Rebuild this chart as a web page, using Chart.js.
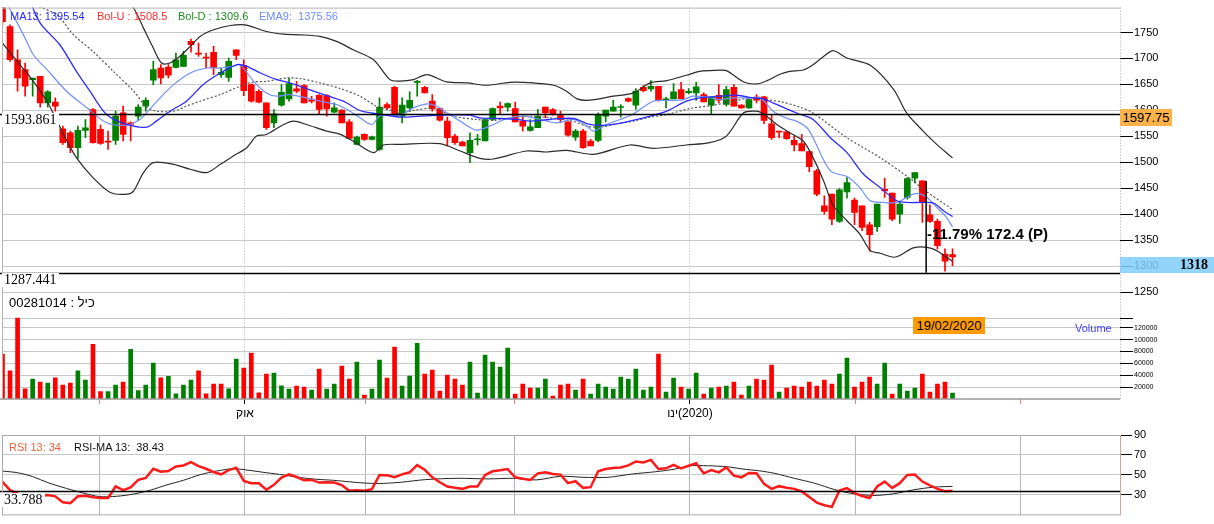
<!DOCTYPE html>
<html lang="he">
<head>
<meta charset="utf-8">
<title>כיל</title>
<script src="https://cdn.jsdelivr.net/npm/chart.js@4.4.1/dist/chart.umd.min.js"></script>
<style>
  html, body { margin: 0; padding: 0; background: #fff; }
  body { position: relative; width: 1214px; height: 524px; overflow: hidden; font-family: 'Liberation Sans', Arial, sans-serif; }
  canvas { position: absolute; left: 0; }
  #priceChart { top: 0; }
  #rsiChart { top: 425px; }
  .t { position: absolute; white-space: pre; line-height: 1; }
  .num { position: absolute; white-space: pre; font-family: 'Liberation Serif', serif; font-size: 14px; line-height: 14px; background: #fff; padding: 0 2px; color: #000; }
  .badge { position: absolute; white-space: pre; color: #000; text-align: center; }
</style>
</head>
<body>
<canvas id="priceChart" width="1214" height="420"></canvas>
<canvas id="rsiChart" width="1214" height="99"></canvas>

<div class="t" style="left:10px;top:11px;font-size:11px;color:#2a2aff">MA13: 1395.54</div>
<div class="t" style="left:97px;top:11px;font-size:11px;color:#ff2a2a">Bol-U : 1508.5</div>
<div class="t" style="left:178px;top:11px;font-size:11px;color:#1e8a1e">Bol-D : 1309.6</div>
<div class="t" style="left:259px;top:11px;font-size:11px;color:#6b8cff">EMA9:  1375.56</div>

<div class="num" style="left:2px;top:113px">1593.861</div>
<div class="num" style="left:2px;top:273px">1287.441</div>
<div class="t" dir="ltr" style="left:9px;top:296px;font-size:13px;color:#000">00281014 : כיל</div>

<div class="t" style="left:927px;top:226px;font-size:15px;font-weight:bold;color:#000">-11.79% 172.4 (P)</div>
<div class="badge" style="left:913px;top:317px;width:72px;height:17px;line-height:17px;font-size:13px;background:#ff9b00">19/02/2020</div>
<div class="t" style="left:1075px;top:323px;font-size:11px;color:#3c3cff">Volume</div>

<div class="badge" style="left:1120px;top:109px;width:52px;height:17px;line-height:17px;font-size:13px;background:#ffb24a">1597.75</div>
<div class="badge" style="left:1120px;top:257px;width:94px;height:16px;line-height:16px;font-size:14px;font-weight:bold;font-family:'Liberation Serif',serif;text-align:right;background:rgba(128,205,250,0.85)"><span style="padding-right:6px">1318</span></div>

<div class="t" style="left:9px;top:442px;font-size:11px;color:#f0603c">RSI 13: 34</div>
<div class="t" style="left:74px;top:442px;font-size:11px;color:#111">RSI-MA 13:  38.43</div>
<div class="num" style="left:2px;top:493px">33.788</div>

<script>
// daily candles, oldest first
const opens = [1810,1761.5,1697.6,1678.4,1659.3,1665.6,1614.5,1615.8,1564.6,1557,
  1528.2,1561.4,1601.7,1563.3,1541,1542.2,1595.3,1576.1,1588.9,1608.1,
  1658,1681.6,1683.5,1682.9,1684.8,1732.8,1710.4,1702.1,1711.7,1668.8,
  1663.7,1716.8,1686.7,1649.6,1636.9,1614.5,1576.1,1610,1622.2,1641.3,
  1647.7,1620.2,1629.2,1628.5,1596.6,1600.4,1578,1534.6,1553.7,1544.2,
  1525,1611.3,1644.5,1588.9,1604.9,1654.1,1644.5,1617.7,1603.6,1579.3,
  1550.5,1539,1518.6,1543.5,1541,1582.5,1608.1,1606.2,1603.6,1579.3,
  1561.4,1566.5,1606.2,1601.7,1590.2,1578,1548.6,1560.1,1541,1542.2,
  1588.9,1598.5,1605.5,1622.8,1610,1644.5,1641.3,1646.5,1619,1622.2,
  1640,1634.3,1633.7,1630.5,1610,1629.2,1611.3,1644.5,1610,1604.9,
  1625.4,1626,1574.2,1560.1,1558.8,1542.2,1535.9,1520.5,1483.4,1416.3,
  1438.6,1386.2,1443.1,1427.1,1416.3,1379.8,1376,1448.2,1440.6,1400.3,
  1432.3,1469.3,1464.2,1399,1386.2,1323.5,1322.3];
const highs = [1815,1764.7,1716.8,1691.2,1662.4,1665.6,1638.1,1624.1,1569.7,1560.1,
  1569.7,1582.5,1603.6,1571.6,1560.1,1598.5,1608.1,1578,1611.3,1624.1,
  1694.4,1688,1688,1710.4,1713.6,1737.2,1729.6,1710.4,1723.2,1681.6,
  1700.8,1716.8,1697.6,1651,1640,1614.5,1601.7,1649.6,1662.4,1656,
  1649.6,1627.3,1630.5,1630.5,1614.5,1601.7,1582.5,1550.5,1555,1550.5,
  1624.1,1614.5,1646.5,1624.1,1635.6,1658,1646.5,1630.5,1604.9,1587,
  1553.7,1541,1557,1553.7,1582.5,1604.9,1615.8,1614.5,1615.8,1588.9,
  1582.5,1601.7,1606.2,1603.6,1598.5,1578,1563.3,1563.3,1544.2,1595.3,
  1600.4,1619.6,1611.3,1624.1,1641.9,1647.7,1657.3,1646.5,1625.4,1651.6,
  1654.1,1642,1654.1,1633.7,1625.4,1649.6,1646.5,1649.6,1611.3,1622.2,
  1630.5,1627.3,1592.1,1560.1,1560.1,1550.5,1553.7,1521.8,1486.6,1435.4,
  1438.6,1449.5,1470.6,1431,1416.3,1384.3,1419.5,1469.3,1440.6,1424.6,
  1470.6,1480.2,1464.2,1418.2,1390.7,1333.2,1333.2];
const lows = [1765,1694.4,1636.9,1627.3,1627.3,1606.2,1606.2,1598.5,1534.6,1518.6,
  1507.7,1547.3,1537,1534.6,1525,1534.6,1541,1541,1580.6,1598.5,
  1649.6,1650.9,1662.4,1681.6,1684.8,1712.3,1704,1681.6,1668.8,1663.7,
  1656,1697.6,1628.5,1616,1614.5,1563.3,1566.5,1608.1,1617.7,1633.7,
  1614.5,1614.5,1592.1,1589,1595.3,1576.1,1546.1,1533.3,1542.2,1542.9,
  1523,1601.7,1592.1,1576.1,1598.5,1627.3,1633.7,1598.5,1579.3,1531.4,
  1534.6,1531.4,1499.4,1533.3,1541,1580.6,1592.1,1598.5,1578,1560.1,
  1560.1,1566.5,1585.7,1590.8,1576.1,1550.5,1542.2,1526.9,1531.4,1539.7,
  1578,1598.5,1587,1616.4,1601.7,1635.6,1636.9,1617.7,1604.9,1622.2,
  1622.8,1631.7,1619,1616.4,1592.1,1614.5,1608.1,1608.1,1603.6,1603.6,
  1614.5,1574.2,1544.2,1547.3,1544.2,1521.8,1521.8,1482.1,1435.4,1400.3,
  1379.8,1384.3,1431,1379.8,1368.3,1328.7,1367,1432.3,1387.5,1382.4,
  1429.1,1460.4,1384.3,1384.3,1333.2,1290.3,1301];
const closes = [1771,1697.6,1662.4,1646.5,1662.4,1614.5,1635.6,1608.1,1537.8,1528.2,
  1561.4,1566.5,1537.8,1536.5,1539,1588.9,1553.7,1572.9,1606.2,1619.6,
  1678.4,1662.4,1667.6,1697.6,1705.9,1726.4,1708.5,1700.8,1681.6,1673.3,
  1694.4,1705.9,1638.1,1617.7,1615.8,1566.5,1593.4,1635,1651.6,1636.9,
  1614.5,1617.7,1601.7,1603,1604.9,1576.1,1546.1,1548.6,1544.2,1549.3,
  1606.2,1604.9,1593.4,1610,1619.6,1655.9,1633.7,1603,1581.2,1547.3,
  1537.8,1531.4,1542.2,1545.4,1582.5,1603.6,1604.9,1613.2,1578,1569.5,
  1568.4,1588.9,1595.3,1592.1,1582.5,1552.4,1560.1,1528.2,1531.4,1590.8,
  1600.4,1606.2,1606.8,1617.7,1637,1638.1,1646.5,1619,1622.2,1635.6,
  1622.8,1636.9,1645.2,1616.4,1625.4,1619.6,1640,1608.1,1604.9,1620.9,
  1619.5,1580.6,1547.3,1558.2,1545.4,1533.3,1521.8,1491.7,1438.6,1405.4,
  1390.7,1447,1461,1403.5,1374.7,1360.6,1419.5,1445,1390.7,1419.5,
  1468.7,1480.2,1422.7,1386.2,1339.5,1309.5,1318];
const volumes = [75500,47500,136500,17300,33600,28500,26800,35800,23500,26800,
  47500,31900,92300,12300,12300,23500,28500,83900,14000,23500,
  60400,35800,38100,8900,23500,31900,47500,8900,25200,25200,
  17300,67100,52000,77200,10600,42000,43600,22000,16800,21800,
  20100,15100,50300,16800,25200,55400,33600,62100,6700,16800,
  65400,35200,87300,21800,38600,94000,42000,48700,13400,40300,
  33600,23500,62100,10100,73800,62100,53700,85600,8400,25200,
  18500,18500,33600,5000,23500,25200,15100,33600,8400,25200,
  20100,16800,36900,33600,50300,15100,20100,75500,11700,35200,
  20100,16800,43600,8400,18500,20100,21800,28500,6700,21800,
  33600,31900,57000,11700,18500,21800,20100,28500,21800,31900,
  25200,42000,68800,20100,28500,36900,25200,60400,8400,25200,
  13400,18500,42000,11700,25200,28500,10100];

// indicator lines: [candle index, value]
const ma13 = [[3.5,1815],[5,1767.9],[7.6,1726.4],[9.8,1675.2],[11.6,1636.9],[13.8,1592.1],[16.5,1572.9],
  [19.1,1567.8],[20.4,1579.3],[22.2,1598.5],[24.4,1617.7],[26.6,1649.6],[28.9,1672],[31.1,1688],
  [32.4,1684.8],[34.2,1672],[36.4,1659.2],[38.1,1652.9],[40.3,1642],[42.6,1630.5],[45.2,1617.7],
  [47.4,1599.8],[49.6,1593.4],[52.7,1587],[55.4,1588.9],[58,1590.8],[62,1590.8],[63.3,1585.7],
  [66,1584.4],[68.2,1582.5],[70,1579.3],[72.6,1582.5],[75.7,1584.4],[77.9,1572.9],[80.1,1571.6],
  [82.8,1578],[85.9,1588.9],[88.1,1598.5],[90.7,1617.7],[92.5,1624.1],[95.2,1627.3],[97.4,1629.2],
  [99.6,1624.1],[100.9,1622.2],[102.2,1614.5],[104,1603],[105.5,1594],[107.5,1582.5],[109.8,1547.3],
  [112,1518.6],[114.2,1477],[116.4,1451.4],[118.6,1425.9],[119.9,1422.7],[122.1,1422.7],[123.5,1421.4],
  [124.8,1406.7],[126,1395.5]];
const ema9 = [[0.8,1800],[1.9,1770],[3,1739.2],[4.1,1707.2],[5.9,1678.4],[8.5,1636.9],[11.2,1604.9],
  [13.8,1576.1],[16.5,1571.6],[18.2,1582.5],[19.3,1598.5],[20.9,1624.1],[22.7,1649.6],[24.9,1672],
  [27.1,1681.6],[28.9,1681.6],[30.6,1684.8],[31.5,1688],[33.3,1656],[35,1633.7],[36.4,1627.3],
  [38.1,1630.5],[40.3,1624.1],[42.1,1617.7],[44.3,1611.3],[46.1,1598.5],[47.4,1585.7],[49,1572.9],
  [50.1,1590],[52.7,1590.5],[54.5,1604.9],[56.3,1612.6],[57.6,1608.1],[58.9,1595.3],[60.7,1579.3],
  [62.9,1562],[65.1,1572.9],[66.9,1584.4],[69.1,1588.9],[71.3,1582.5],[73.5,1576.1],[75.7,1582.5],
  [77.5,1569.7],[78.4,1560.1],[80.1,1572.9],[81.9,1582.5],[83.7,1593.4],[86.3,1617.7],[88.1,1619],
  [90.3,1620.9],[91.6,1627.3],[93.4,1625.4],[95.2,1620.9],[96.9,1624.1],[99.1,1624.1],[100.5,1624.1],
  [102.2,1598.5],[104,1585],[105.3,1579.3],[106.7,1566.5],[107.5,1547.3],[109.8,1483.4],[112,1472.5],
  [113.7,1451.4],[115.1,1425.9],[116.8,1422.7],[118.6,1422.7],[119.9,1432.3],[121.2,1440],[122.6,1432.3],
  [123.9,1413.1],[125.2,1393.9],[126,1375.6]];
const bolUp = [[0,1900],[10,1880],[15,1840],[17.4,1796.7],[18.7,1758.4],[20,1720],[21.1,1691.2],[22.2,1691.2],
  [23.5,1704],[24.9,1723.2],[26.2,1742.4],[28,1755.2],[30.2,1763.5],[32.2,1764.7],[35,1752],[37.3,1746.8],
  [39.5,1745.6],[42.1,1742.4],[44.3,1732.8],[46.5,1716.8],[49.2,1697.6],[51.4,1659.2],[52.7,1656.5],
  [54.5,1659.2],[56.3,1668.8],[58.9,1654.8],[61.6,1652.9],[64.2,1648.4],[67.3,1654.1],[70.4,1652.9],
  [73.1,1648.4],[74.8,1636.9],[76.2,1622.2],[77.9,1619.6],[81,1627.3],[83.7,1633.7],[85.9,1652.9],
  [88.1,1657.3],[90.7,1667.6],[92.5,1675.2],[94.7,1677.1],[96,1676.5],[98.3,1654.8],[100,1650.9],
  [101.4,1657.3],[103.1,1669.5],[104.4,1675.2],[106.2,1677.8],[107.5,1688],[108.9,1704],[110.2,1714.9],
  [112,1700.8],[115.1,1686.7],[118.2,1640],[119.9,1595.3],[122.1,1560.1],[123.9,1534.6],[126,1508.5]];
const bolDown = [[0,1729.6],[2.3,1688],[4.1,1656],[5.9,1617.7],[6.7,1595.3],[8.1,1553.7],[9.8,1509],[12,1470.6],
  [14.3,1441.9],[16.5,1438.6],[17.4,1445],[18.7,1480.2],[20,1499.4],[22.7,1496.2],[24.9,1486.6],[27.1,1480.2],
  [28.9,1496.2],[30.6,1512.2],[32.4,1528.2],[33.7,1550.5],[35,1553.7],[37.3,1572.9],[38.6,1579.3],
  [40.3,1572.9],[43,1560.1],[44.8,1553.7],[46.5,1541],[49.2,1518.6],[50.5,1533.3],[52.7,1534.6],
  [58,1535.9],[60.7,1521.8],[63.3,1507.7],[65.1,1506.4],[69.5,1521.8],[72.2,1519.9],[74.8,1523.1],
  [78.4,1515.4],[83.2,1533.3],[86.3,1526.9],[90.7,1533.3],[93.8,1537.8],[96,1550.5],[98.3,1595.3],
  [100,1598.5],[100.9,1593.4],[102.7,1572.9],[104.4,1557],[106.2,1541],[107.5,1509],[108.9,1464.2],
  [110.2,1416.3],[112,1387.5],[113.7,1361.9],[115.1,1330],[116.4,1324.8],[118.2,1317.2],[119,1320.4],
  [120.8,1335.1],[122.6,1336.3],[123.9,1330],[125.2,1317.2],[126,1309.6]];
const bolMid = [[0,1830],[3,1810],[7.2,1783.9],[9.4,1745.6],[12,1713.6],[14.7,1675.2],[17.4,1636.9],[19.1,1606.2],
  [20.4,1598.5],[22.7,1598.5],[24.4,1608.1],[26.2,1617.7],[28.9,1630.5],[31.5,1646.5],[33.3,1654.8],[35,1656],
  [37.7,1662.4],[39.5,1661.2],[42.1,1652.9],[44.8,1642],[47.4,1627.3],[49.6,1608.1],[51.8,1598.5],[52.7,1594],
  [54.5,1599.8],[57.1,1603.6],[59.8,1588.9],[62.9,1582.5],[65.1,1580.6],[67.3,1585.7],[70,1588.9],[72.6,1585.7],
  [75.3,1580.6],[77.5,1569.7],[79.2,1567.8],[81.5,1574.2],[83.7,1579.3],[85.9,1587],[88.1,1592.1],[91.2,1603.6],
  [94.3,1610],[96.9,1617.7],[99.1,1624.1],[100.5,1624.1],[101.4,1620.9],[103.4,1616],[105.8,1606],[107.5,1595],
  [112,1547.3],[116.4,1509],[120.8,1464.2],[122.1,1448.2],[126,1409]];

// RSI 13 per candle, and its moving average
const rsiValues = [42.9,34.6,31,29,27.5,28.5,29.7,28.4,22.5,21.5,
  28.4,29,27.5,26.7,26.7,38.3,34.6,37.3,44.9,46.8,
  56.1,53.1,53.8,58.4,59.4,62.7,58.7,56.1,52.8,50.5,
  54.7,57,43.9,41.6,41.6,35,39.9,47.2,50.5,47.8,
  44.5,44.9,42.2,42.5,42.2,39.6,34,34.6,34,35.6,
  49.8,49.5,47.6,50.5,52.5,59.8,55.1,47.5,42.5,38.3,
  37,35.9,38.3,38.3,49.8,53.5,54.5,55.8,47.5,46,
  44.9,51.5,52.5,50.8,50.2,41.6,43.6,36.9,37.6,53.5,
  55.8,56.8,57.4,59.5,63.4,62.5,65,55.8,56.5,60.1,
  56.5,59.1,61.7,51.5,54.8,52.5,57.4,49.2,47.5,51.8,
  51.5,40.9,35.9,38.6,37,35.9,33.3,27.7,22.1,19.5,
  17.8,34.3,36.6,31.7,28.7,26.7,38.3,43.2,36.9,41.6,
  49.8,50.2,43.2,39.3,35.9,33.6,34];
const rsiMa = [[0,53.8],[2,52.1],[4,48.2],[6,42.2],[8.5,36.3],[10.7,31.7],[12.9,28.1],[15.1,28.4],[17.4,30.7],
  [19.6,34.6],[21.8,39.9],[24,44.5],[26.2,50.1],[28.4,53.8],[30.6,56.1],[32.8,54.4],[35,52.1],[37.3,49.8],
  [39.5,47.2],[41.7,45.5],[43.9,44.5],[46.1,42.9],[48.3,41.6],[50.5,41.4],[52.9,42.6],[56.1,45.2],[60.3,46.5],
  [64.5,45.9],[67.7,46.5],[70.8,44.9],[74,48.5],[77.1,47.5],[80.3,47.5],[83.5,50.8],[86.6,53.1],[89.2,55.8],
  [91.3,59.1],[93.5,59.1],[96.1,58.1],[98.2,55.8],[100.3,54.1],[102.4,51.5],[105,46.5],[107.7,41.6],
  [110.3,35.3],[112.9,31],[115.6,29.3],[118.2,31],[120.8,34.9],[123.5,37.6],[126,38.4]];

// axis ticks (month boundaries sit between candles)
const monthTicks = [12.93, 32.16, 48.08, 67.97, 91.18, 113.08, 134.95];
const monthLabels = ['', 'אוק', '', '', 'ינו\u200E(2020)', '', ''];
const priceTicks = [1200,1250,1300,1350,1400,1450,1500,1550,1600,1650,1700,1750];
const volumeTicks = [20000,40000,60000,80000,100000,120000];
const rsiTicks = [30,50,70,90];

// horizontal reference levels and the measure line
const refLevels = [1593.861, 1287.441];
const rsiLevel = 33.788;
const markIndex = 122.5, markFrom = 1464.2;

Chart.defaults.font.family = "'Liberation Sans', Arial, sans-serif";
Chart.defaults.color = '#000';

const up = '#008000', down = '#ff0000';
const idx = closes.map((c, i) => i);
const candleColor = idx.map(i => closes[i] >= opens[i] ? up : down);
// volume is coloured by close against the previous close
const volumeColor = idx.map(i => i === 0 ? candleColor[0] : (closes[i] >= closes[i - 1] ? up : down));
const pts = arr => arr.map(p => ({ x: p[0], y: p[1] }));

const xMin = -0.066, xMax = 148.21;

const priceDecor = {
  id: 'priceDecor',
  afterLayout(chart) {
    // volume axis takes no room but needs a label box to draw into
    const s = chart.scales.yv;
    s.right = s.left + 94;
  },
  afterDatasetsDraw(chart) {
    const { ctx, chartArea: a, scales } = chart;
    const y = scales.y, x = scales.x;
    ctx.save();
    ctx.strokeStyle = '#000';
    ctx.lineWidth = 1.5;
    refLevels.forEach(v => {
      const py = Math.round(y.getPixelForValue(v)) + 0.5;
      ctx.beginPath(); ctx.moveTo(0, py); ctx.lineTo(a.right, py); ctx.stroke();
    });
    const mx = x.getPixelForValue(markIndex);
    ctx.beginPath();
    ctx.moveTo(mx, y.getPixelForValue(markFrom));
    ctx.lineTo(mx, y.getPixelForValue(refLevels[1]));
    ctx.stroke();
    // panel frame
    ctx.lineWidth = 1;
    ctx.strokeStyle = '#b4b4b4';
    ctx.beginPath();
    ctx.moveTo(a.left, a.top + 0.5); ctx.lineTo(a.right, a.top + 0.5);
    ctx.moveTo(a.left + 0.5, a.top); ctx.lineTo(a.left + 0.5, a.bottom);
    ctx.stroke();
    ctx.strokeStyle = '#999';
    ctx.lineWidth = 1.5;
    ctx.beginPath(); ctx.moveTo(0, a.bottom); ctx.lineTo(a.right, a.bottom); ctx.stroke();
    ctx.lineWidth = 1;
    ctx.strokeStyle = '#a8a8a8';
    ctx.setLineDash([1, 2]);
    ctx.beginPath(); ctx.moveTo(a.right + 0.5, a.top); ctx.lineTo(a.right + 0.5, a.bottom); ctx.stroke();
    ctx.restore();
  }
};

const rsiDecor = {
  id: 'rsiDecor',
  afterDatasetsDraw(chart) {
    const { ctx, chartArea: a, scales } = chart;
    ctx.save();
    ctx.strokeStyle = '#000';
    ctx.lineWidth = 1.5;
    const py = Math.round(scales.y.getPixelForValue(rsiLevel)) + 0.5;
    ctx.beginPath(); ctx.moveTo(0, py); ctx.lineTo(a.right, py); ctx.stroke();
    ctx.lineWidth = 1;
    ctx.strokeStyle = '#aaa';
    ctx.beginPath();
    ctx.moveTo(a.left, a.top + 0.5); ctx.lineTo(a.right, a.top + 0.5);
    ctx.moveTo(a.left, a.bottom - 0.5); ctx.lineTo(a.right, a.bottom - 0.5);
    ctx.moveTo(a.left + 0.5, a.top); ctx.lineTo(a.left + 0.5, a.bottom);
    ctx.stroke();
    ctx.strokeStyle = '#d9a0a0';
    ctx.beginPath(); ctx.moveTo(a.right + 0.5, a.top); ctx.lineTo(a.right + 0.5, a.bottom); ctx.stroke();
    ctx.restore();
  }
};

const lineDs = (data, color, width, extra) => Object.assign({
  type: 'line', data: pts(data), borderColor: color, borderWidth: width,
  pointRadius: 0, tension: 0.3, yAxisID: 'y', order: 0
}, extra || {});

new Chart(document.getElementById('priceChart'), {
  type: 'bar',
  data: {
    datasets: [
      lineDs(ma13, '#2b2bff', 1.3),
      lineDs(ema9, '#6f8ff7', 1.2),
      lineDs(bolUp, '#2a2a2a', 1.2),
      lineDs(bolDown, '#2a2a2a', 1.2),
      lineDs(bolMid, '#555', 1.2, { borderDash: [2, 2] }),
      { label: 'wick', data: idx.map(i => ({ x: i, y: [lows[i], highs[i]] })), backgroundColor: candleColor,
        barThickness: 1, grouped: false, yAxisID: 'y', order: 2 },
      { label: 'body', data: idx.map(i => ({ x: i, y: [opens[i], closes[i]] })), backgroundColor: candleColor,
        barThickness: 6, minBarLength: 1, grouped: false, yAxisID: 'y', order: 1 },
      { label: 'volume', data: idx.map(i => ({ x: i, y: volumes[i] })), backgroundColor: volumeColor,
        barThickness: 4, grouped: false, yAxisID: 'yv', order: 3 }
    ]
  },
  options: {
    responsive: false, animation: false, events: [],
    layout: { padding: { left: 2, top: 6, right: 0, bottom: 0 } },
    plugins: { legend: { display: false }, tooltip: { enabled: false } },
    scales: {
      x: {
        type: 'linear', min: xMin, max: xMax, offset: false,
        afterBuildTicks: a => { a.ticks = monthTicks.map(v => ({ value: v })); },
        afterFit: a => { a.height = 21; },
        ticks: { autoSkip: false, maxRotation: 0, padding: 2, font: { size: 12 }, callback: (v, i) => monthLabels[i] },
        grid: {
          offset: false, tickLength: 5,
          color: c => monthLabels[c.index] ? '#b4b4b4' : 'rgba(0,0,0,0)',
          tickColor: c => monthLabels[c.index] ? '#000' : '#f08080'
        },
        border: { display: false, dash: [1, 2] }
      },
      y: {
        position: 'right', weight: 1, min: 1044.2, max: 1797.95,
        afterBuildTicks: a => { a.ticks = priceTicks.map(v => ({ value: v })); },
        afterFit: a => { a.width = 94; },
        ticks: { padding: 1, font: { size: 11 }, callback: v => v >= 1250 ? String(v) : '' },
        grid: { color: '#c8c8c8', tickColor: '#000', tickLength: 13 },
        border: { display: false }
      },
      yv: {
        position: 'right', weight: 0, min: 0, max: 659500,
        afterBuildTicks: a => { a.ticks = volumeTicks.map(v => ({ value: v })); },
        afterFit: a => { a.width = 0; },
        ticks: { padding: 1, font: { size: 7 }, callback: v => String(v) },
        grid: { color: '#c8c8c8', tickColor: '#000', tickLength: 13 },
        border: { display: false }
      }
    }
  },
  plugins: [priceDecor]
});

new Chart(document.getElementById('rsiChart'), {
  type: 'line',
  data: {
    datasets: [
      { data: idx.map(i => ({ x: i, y: rsiValues[i] })), borderColor: '#ff1a1a', borderWidth: 2.5, pointRadius: 0, tension: 0 },
      { data: pts(rsiMa), borderColor: '#222', borderWidth: 1, pointRadius: 0, tension: 0.3 }
    ]
  },
  options: {
    responsive: false, animation: false, events: [],
    layout: { padding: { left: 2, top: 10, right: 0, bottom: 7.3 } },
    plugins: { legend: { display: false }, tooltip: { enabled: false } },
    scales: {
      x: {
        type: 'linear', min: xMin, max: xMax, offset: false,
        afterBuildTicks: a => { a.ticks = monthTicks.map(v => ({ value: v })); },
        afterFit: a => { a.height = 0; },
        ticks: { display: false },
        grid: { color: '#b4b4b4', drawTicks: false },
        border: { display: false }
      },
      y: {
        position: 'right', min: 9.24, max: 90,
        afterBuildTicks: a => { a.ticks = rsiTicks.map(v => ({ value: v })); },
        afterFit: a => { a.width = 94; },
        ticks: { padding: 2, font: { size: 11 } },
        grid: { color: '#c8c8c8', tickColor: '#000', tickLength: 12 },
        border: { display: false }
      }
    }
  },
  plugins: [rsiDecor]
});
</script>
</body>
</html>
